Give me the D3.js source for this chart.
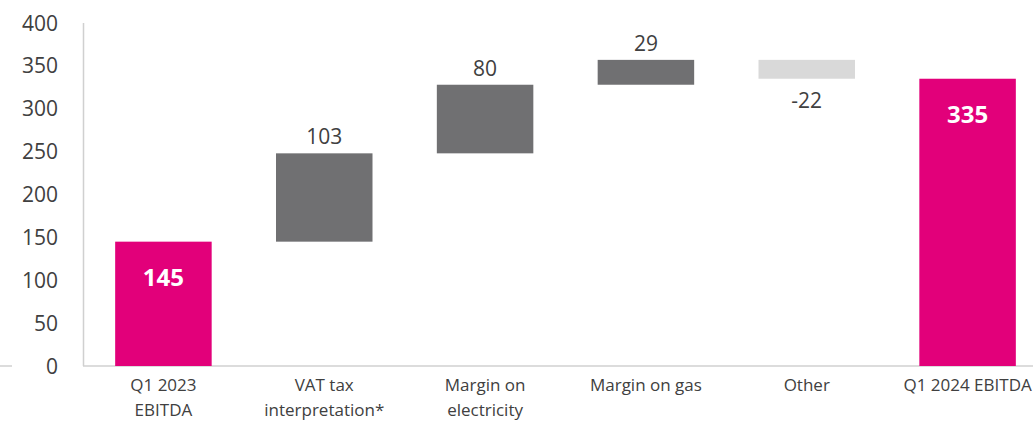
<!DOCTYPE html>
<html>
<head>
<meta charset="utf-8">
<script src="https://cdn.jsdelivr.net/npm/d3@7"></script>
<style>
  html, body { margin: 0; padding: 0; background: #fff; }
  svg { display: block; font-family: "Open Sans", sans-serif; }
</style>
</head>
<body>
<svg id="chart" width="1033" height="421"></svg>
<script>
const categories = [["Q1 2023", "EBITDA"], ["VAT tax", "interpretation*"], ["Margin on", "electricity"], ["Margin on gas"], ["Other"], ["Q1 2024 EBITDA"]];
const values = [145, 103, 80, 29, -22, 335];
const kinds = ["total", "delta", "delta", "delta", "delta", "total"];
const yTicks = [0, 50, 100, 150, 200, 250, 300, 350, 400];

const colors = { total: "#e2007a", up: "#707072", down: "#d9d9d9" };

// build waterfall rows
let running = 0;
const rows = values.map((v, i) => {
  let y0, y1;
  if (kinds[i] === "total") { y0 = 0; y1 = v; running = v; }
  else { y0 = running; y1 = running + v; running = y1; }
  return { i, key: categories[i].join(" "), label: categories[i], v, kind: kinds[i], lo: Math.min(y0, y1), hi: Math.max(y0, y1) };
});

const svg = d3.select("#chart");
const x = d3.scaleBand().domain(rows.map(d => d.key)).range([83, 1048]).paddingInner(0.4).paddingOuter(0.2);
const y = d3.scaleLinear().domain([0, 400]).range([366, 23]);

// axis lines
svg.append("line").attr("x1", 83.5).attr("x2", 83.5).attr("y1", 23).attr("y2", 366).attr("stroke", "#d0d0d0").attr("stroke-width", 1.5);
svg.append("line").attr("x1", 83).attr("x2", 1033).attr("y1", 366).attr("y2", 366).attr("stroke", "#d0d0d0").attr("stroke-width", 1.5);
svg.append("line").attr("x1", 0).attr("x2", 12).attr("y1", 366).attr("y2", 366).attr("stroke", "#d0d0d0").attr("stroke-width", 1.5);

// y tick labels
svg.append("g").selectAll("text").data(yTicks).join("text")
  .attr("x", 58).attr("y", d => y(d)).attr("dy", "0.36em")
  .attr("text-anchor", "end").attr("font-size", 21).attr("fill", "#404040")
  .text(d => d);

// bars
svg.append("g").selectAll("rect").data(rows).join("rect")
  .attr("x", d => x(d.key)).attr("width", x.bandwidth())
  .attr("y", d => y(d.hi)).attr("height", d => y(d.lo) - y(d.hi))
  .attr("fill", d => d.kind === "total" ? colors.total : (d.v >= 0 ? colors.up : colors.down));

// value labels
svg.append("g").selectAll("text").data(rows).join("text")
  .attr("x", d => x(d.key) + x.bandwidth() / 2)
  .attr("y", d => d.kind === "total" ? y(d.hi) + 44 : (d.v >= 0 ? y(d.hi) - 9 : y(d.lo) + 29))
  .attr("text-anchor", "middle")
  .attr("font-size", d => d.kind === "total" ? 24 : 21)
  .attr("font-weight", d => d.kind === "total" ? 700 : 400)
  .attr("fill", d => d.kind === "total" ? "#fff" : "#404040")
  .text(d => d.v);

// category labels
const cat = svg.append("g").selectAll("text").data(rows).join("text")
  .attr("x", d => x(d.key) + x.bandwidth() / 2)
  .attr("y", 391)
  .attr("text-anchor", "middle").attr("font-size", 17).attr("fill", "#404040");
cat.selectAll("tspan").data(d => d.label.map(t => ({ t, cx: x(d.key) + x.bandwidth() / 2 }))).join("tspan")
  .attr("x", t => t.cx).attr("dy", (t, j) => j === 0 ? 0 : 25).text(t => t.t);
</script>
</body>
</html>
